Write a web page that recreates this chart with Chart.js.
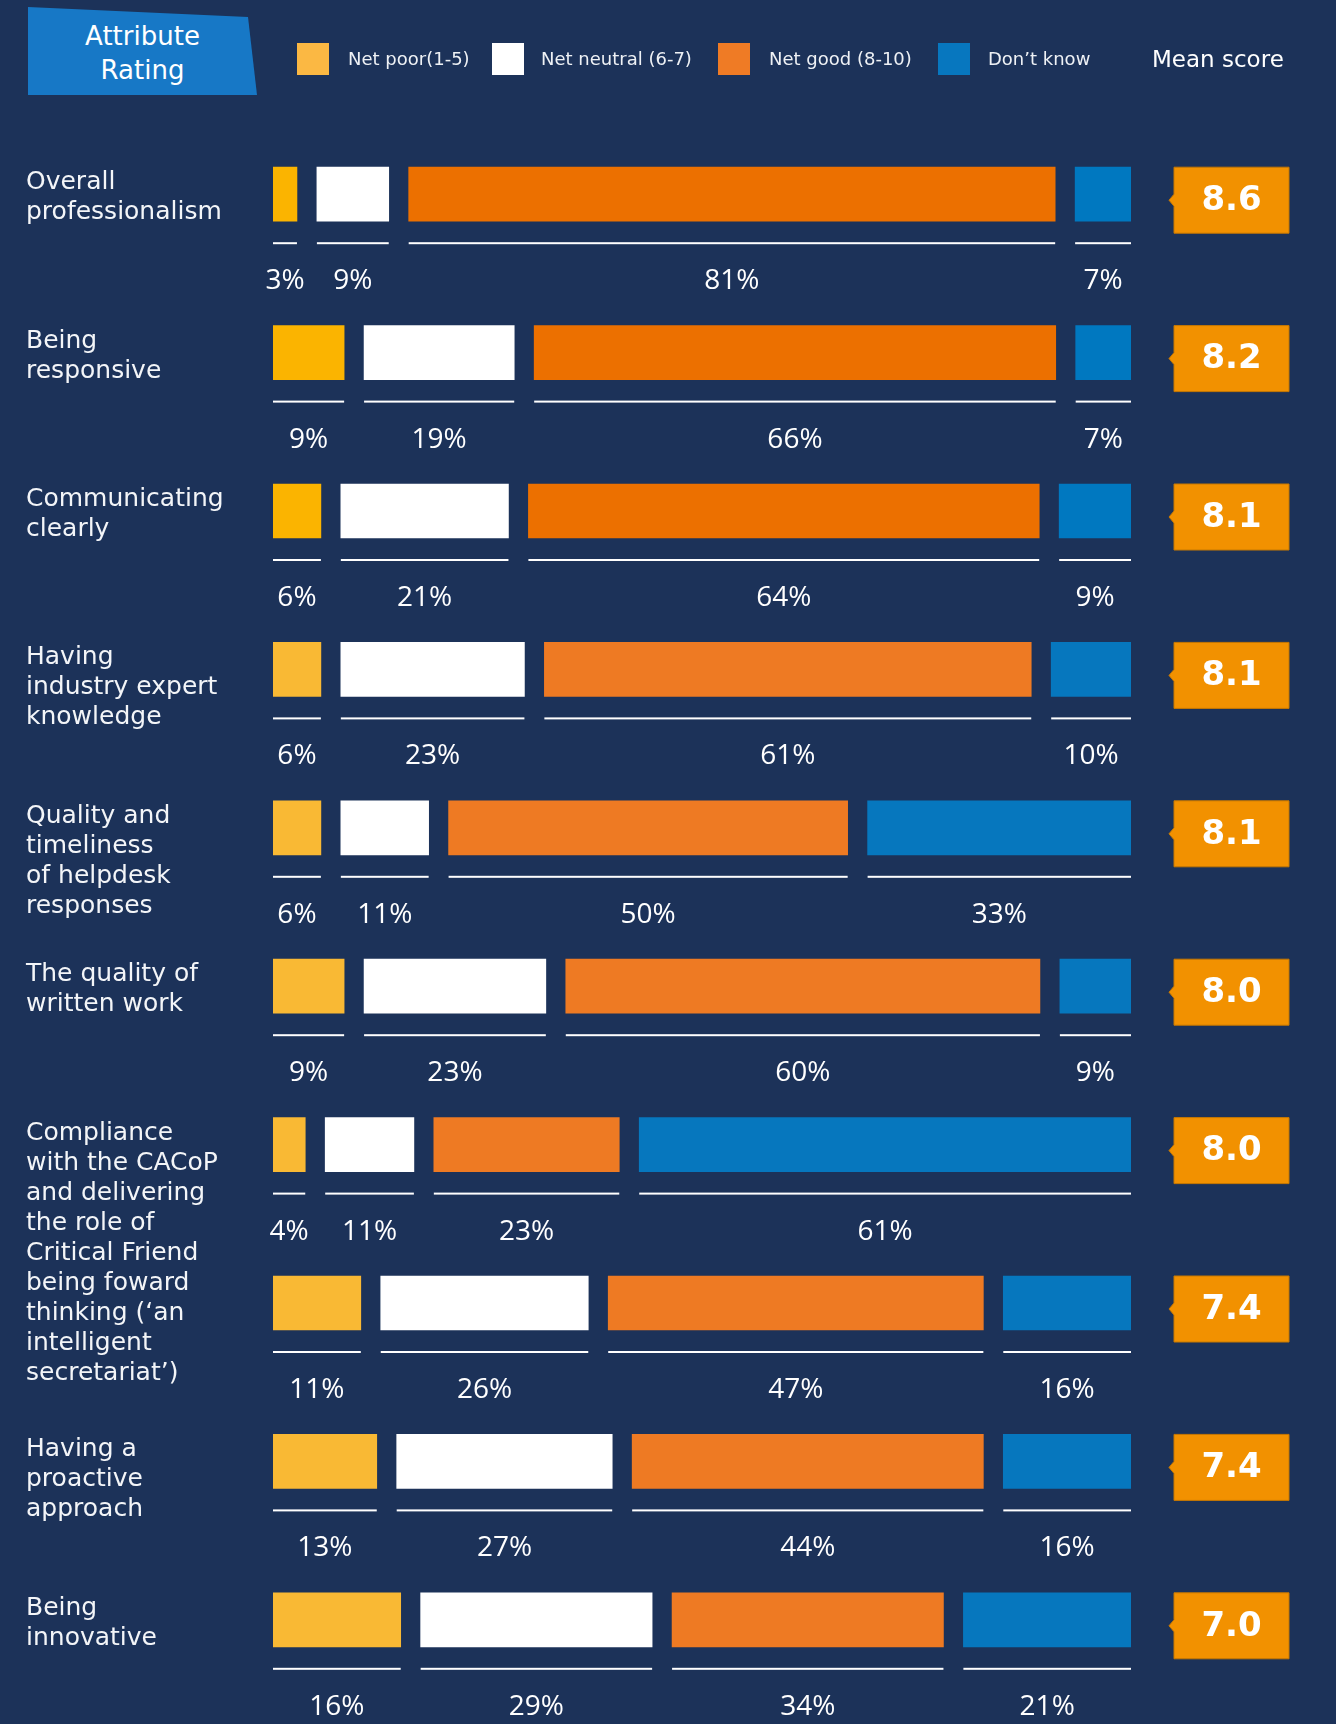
<!DOCTYPE html>
<html>
<head>
<meta charset="utf-8">
<script src="https://cdn.jsdelivr.net/npm/chart.js@4"></script>
<style>
  html, body { margin: 0; padding: 0; background: #1c3259; }
  #wrap { position: relative; width: 1336px; height: 1724px; overflow: hidden; }
  #chart { position: absolute; left: 0; top: 0; }
  .tag { position: absolute; left: 28px; top: 7px; width: 229px; height: 88px; background: #1778c6;
         clip-path: polygon(0 0, 220px 10px, 229px 88px, 0 88px); color: #fff;
         font: 26px "DejaVu Sans", sans-serif; text-align: center; line-height: 34px; padding-top: 12px; box-sizing: border-box; }
  .tag span { display: block; width: 229px; }
  .legend { position: absolute; top: 0; left: 0; }
  .sw { position: absolute; top: 43px; width: 32px; height: 32px; }
  .lt { position: absolute; top: 47px; color: #eef1f5; font: 18px "DejaVu Sans", sans-serif; line-height: 24px; white-space: nowrap; }
  .mean { position: absolute; left: 1152px; top: 44px; color: #fff; font: 23px "DejaVu Sans", sans-serif; line-height: 30px; white-space: nowrap; }
</style>
</head>
<body>
<div id="wrap">
  <canvas id="chart" width="1336" height="1724"></canvas>
  <div class="tag"><span>Attribute</span><span>Rating</span></div>
  <div class="legend" id="legend"></div>
  <div class="mean">Mean score</div>
</div>
<script>
const categories = [
  ["Overall", "professionalism"],
  ["Being", "responsive"],
  ["Communicating", "clearly"],
  ["Having", "industry expert", "knowledge"],
  ["Quality and", "timeliness", "of helpdesk", "responses"],
  ["The quality of", "written work"],
  ["Compliance", "with the CACoP", "and delivering", "the role of", "Critical Friend"],
  ["being foward", "thinking (‘an", "intelligent", "secretariat’)"],
  ["Having a", "proactive", "approach"],
  ["Being", "innovative"]
];
const poor = [3, 9, 6, 6, 6, 9, 4, 11, 13, 16];
const neutral = [9, 19, 21, 23, 11, 23, 11, 26, 27, 29];
const good = [81, 66, 64, 61, 50, 60, 23, 47, 44, 34];
const dontKnow = [7, 7, 9, 10, 33, 9, 61, 16, 16, 21];
const meanScores = ["8.6", "8.2", "8.1", "8.1", "8.1", "8.0", "8.0", "7.4", "7.4", "7.0"];
const seriesNames = ["Net poor(1-5)", "Net neutral (6-7)", "Net good (8-10)", "Don’t know"];

// first three rows use the brighter tones of the original
const colors = [
  ["#fbb400", "#f9b934"],
  ["#ffffff", "#ffffff"],
  ["#ec7000", "#ee7a23"],
  ["#0078c0", "#0677be"]
];
const legendColors = ["#fbb843", "#ffffff", "#ef7b25", "#0777bf"];
const legendX = [[297, 348], [492, 541], [718, 769], [938, 988]];

const GAP = 2.5; // space between segments, in axis units
const series = [poor, neutral, good, dontKnow];

// floating [start, end] pairs; rounded shares are rescaled so each row fills the width
const spans = series.map(() => []);
categories.forEach((_, i) => {
  const total = series.reduce((a, vals) => a + vals[i], 0);
  let start = 0;
  series.forEach((vals, s) => {
    const w = vals[i] * 100 / total;
    spans[s].push([start, start + w]);
    start += w + GAP;
  });
});

const legend = document.getElementById("legend");
seriesNames.forEach((name, s) => {
  const sw = document.createElement("div");
  sw.className = "sw";
  sw.style.left = legendX[s][0] + "px";
  sw.style.background = legendColors[s];
  const lt = document.createElement("div");
  lt.className = "lt";
  lt.style.left = legendX[s][1] + "px";
  lt.textContent = name;
  legend.append(sw, lt);
});

const decor = {
  id: "decor",
  afterDatasetsDraw(chart) {
    const ctx = chart.ctx;
    const area = chart.chartArea;
    ctx.save();
    chart.data.datasets.forEach((ds, d) => {
      chart.getDatasetMeta(d).data.forEach((bar, i) => {
        const { x, y, base, height } = bar.getProps(["x", "y", "base", "height"], true);
        const bottom = y + height / 2;
        ctx.fillStyle = "#ffffff";
        ctx.fillRect(Math.min(base, x), bottom + 21, Math.abs(x - base), 2);
        ctx.font = '28px "Open Sans"';
        ctx.textAlign = "center";
        ctx.textBaseline = "middle";
        ctx.fillText(series[d][i] + "%", (base + x) / 2, bottom + 60);
      });
    });

    let nextLine = -Infinity;
    const meta = chart.getDatasetMeta(0);
    categories.forEach((lines, i) => {
      const bar = meta.data[i];
      const top = bar.y - bar.height / 2;
      let first = top + 22;
      if (nextLine >= first - 12) first = nextLine;
      ctx.font = '25px "DejaVu Sans"';
      ctx.textAlign = "left";
      ctx.textBaseline = "alphabetic";
      ctx.fillStyle = "#f3f5f8";
      lines.forEach((t, k) => ctx.fillText(t, 26, first + 30 * k));
      nextLine = first + 30 * lines.length;

      const bx = area.right + 43, bw = 115, bh = 66, mid = top + bh / 2;
      ctx.beginPath();
      ctx.moveTo(bx, top);
      ctx.lineTo(bx + bw, top);
      ctx.lineTo(bx + bw, top + bh);
      ctx.lineTo(bx, top + bh);
      ctx.lineTo(bx, mid + 6);
      ctx.lineTo(bx - 5, mid);
      ctx.lineTo(bx, mid - 6);
      ctx.closePath();
      ctx.fillStyle = "#f29100";
      ctx.fill();
      ctx.strokeStyle = "#c77800";
      ctx.lineWidth = 1;
      ctx.stroke();
      ctx.fillStyle = "#ffffff";
      ctx.font = 'bold 34px "DejaVu Sans"';
      ctx.textAlign = "center";
      ctx.textBaseline = "middle";
      ctx.fillText(meanScores[i], bx + bw / 2, mid + 1);
    });
    ctx.restore();
  }
};

new Chart(document.getElementById("chart"), {
  type: "bar",
  data: {
    labels: categories.map(l => l.join(" ")),
    datasets: seriesNames.map((name, s) => ({
      label: name,
      data: spans[s],
      backgroundColor: ctx => colors[s][ctx.dataIndex < 3 ? 0 : 1],
      borderWidth: 0,
      barThickness: 54,
      grouped: false
    }))
  },
  options: {
    indexAxis: "y",
    responsive: false,
    animation: false,
    devicePixelRatio: 1,
    layout: { padding: { left: 273, right: 205, top: 115, bottom: 25 } },
    plugins: { legend: { display: false }, tooltip: { enabled: false } },
    scales: {
      x: { display: false, min: 0, max: 100 + 3 * GAP },
      y: { display: false, offset: true, grid: { display: false } }
    }
  },
  plugins: [decor]
});
</script>
</body>
</html>
